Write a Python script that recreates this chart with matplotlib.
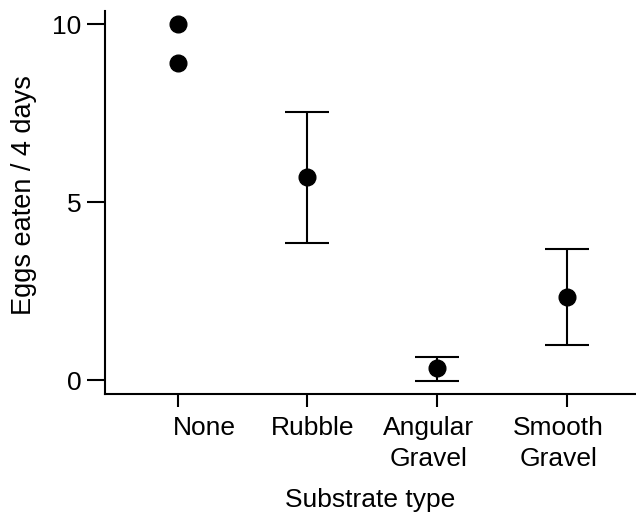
import matplotlib.pyplot as plt
from matplotlib.transforms import ScaledTranslation

plt.rcParams['font.family'] = ['Liberation Sans', 'DejaVu Sans']

substrates = ['None', 'Rubble', 'Angular\nGravel', 'Smooth\nGravel']
none_points = [10.0, 8.9]
means = [5.7, 0.33, 2.33]
upper = [7.53, 0.65, 3.68]
lower = [3.85, -0.03, 0.98]

fig = plt.figure(figsize=(6.36, 5.14), dpi=100)
ax = fig.add_axes([0.165, 0.2335, 0.835, 0.745])

x = list(range(len(substrates)))
ax.plot([x[0]] * len(none_points), none_points, 'o', color='black', markersize=12)
err_lo = [m - l for m, l in zip(means, lower)]
err_hi = [u - m for m, u in zip(means, upper)]
ax.errorbar(x[1:], means, yerr=[err_lo, err_hi], fmt='o', color='black',
            markersize=12, elinewidth=1.5, capsize=16, capthick=1.5)

ax.set_xlim(-0.56, 3.53)
ax.set_ylim(-0.39, 10.37)
ax.set_xticks(x)
ax.set_xticklabels(substrates, linespacing=1.4)
ax.set_yticks([0, 5, 10])

for side in ['top', 'right']:
    ax.spines[side].set_visible(False)
for side in ['left', 'bottom']:
    ax.spines[side].set_linewidth(1.5)

ax.tick_params(axis='y', length=13, width=1.5, pad=4, labelsize=19)
ax.tick_params(axis='x', length=9.5, width=1.5, pad=6, labelsize=19)

# the labels in the original sit a bit off their ticks
shifts = [27, 5, -9, -9]
for lab, dx in zip(ax.get_xticklabels(), shifts):
    lab.set_transform(lab.get_transform() + ScaledTranslation(dx / 100, 0, fig.dpi_scale_trans))

ax.set_xlabel('Substrate type', fontsize=19, labelpad=12)
ax.set_ylabel('Eggs eaten / 4 days', fontsize=19.5)
ax.yaxis.set_label_coords(-0.127, 0.52)

fig.savefig('out.png', dpi=100)
